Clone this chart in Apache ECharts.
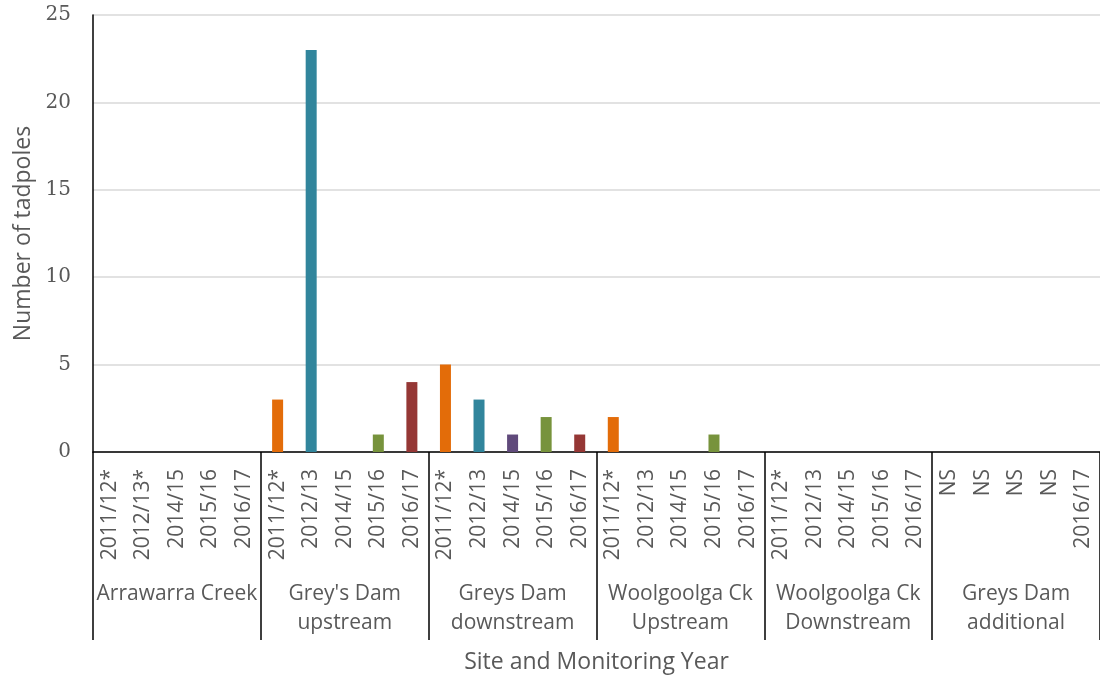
<!DOCTYPE html>
<html>
<head>
<meta charset="utf-8">
<script src="https://cdn.jsdelivr.net/npm/echarts@6/dist/echarts.min.js"></script>
<style>html,body{margin:0;padding:0;background:#fff;}#c{width:1100px;height:679px;}</style>
</head>
<body>
<div id="c"></div>
<script>
// Sites (group labels) and their year labels
const sites = ["Arrawarra Creek", "Grey's Dam\nupstream", "Greys Dam\ndownstream", "Woolgoolga Ck\nUpstream", "Woolgoolga Ck\nDownstream", "Greys Dam\nadditional"];
const yearLabels = [
  ["2011/12*", "2012/13*", "2014/15", "2015/16", "2016/17"],
  ["2011/12*", "2012/13", "2014/15", "2015/16", "2016/17"],
  ["2011/12*", "2012/13", "2014/15", "2015/16", "2016/17"],
  ["2011/12*", "2012/13", "2014/15", "2015/16", "2016/17"],
  ["2011/12*", "2012/13", "2014/15", "2015/16", "2016/17"],
  ["NS", "NS", "NS", "NS", "2016/17"]
];
// Number of tadpoles per site, per monitoring year (2011/12, 2012/13, 2014/15, 2015/16, 2016/17)
const arrawarraCreek = [0, 0, 0, 0, 0];
const greysDamUpstream = [3, 23, 0, 1, 4];
const greysDamDownstream = [5, 3, 1, 2, 1];
const woolgoolgaUpstream = [2, 0, 0, 1, 0];
const woolgoolgaDownstream = [0, 0, 0, 0, 0];
const greysDamAdditional = [null, null, null, null, 0];
const yTicks = [0, 5, 10, 15, 20, 25];

const yearColors = ["#E36C09", "#31859C", "#604A7B", "#77933C", "#953735"];

const siteValues = [arrawarraCreek, greysDamUpstream, greysDamDownstream, woolgoolgaUpstream, woolgoolgaDownstream, greysDamAdditional];
const categories = [];
const barData = [];
siteValues.forEach((vals, s) => {
  vals.forEach((v, i) => {
    categories.push(yearLabels[s][i]);
    barData.push({ value: v, itemStyle: { color: yearColors[i] } });
  });
});

const labelFont = "'Open Sans', 'Liberation Sans', sans-serif";
const chart = echarts.init(document.getElementById('c'), null, { renderer: 'canvas' });
chart.setOption({
  animation: false,
  backgroundColor: '#ffffff',
  grid: { left: 93, right: -3, top: 15, bottom: 225, containLabel: false },
  xAxis: [
    {
      type: 'category',
      data: categories,
      position: 'bottom',
      axisLine: { show: true, lineStyle: { color: '#000000', width: 1.5 } },
      axisTick: { show: false },
      axisLabel: {
        interval: 0, rotate: 90, margin: 17,
        fontFamily: labelFont, fontSize: 21, color: '#595959'
      }
    },
    {
      type: 'category',
      data: sites,
      position: 'bottom',
      axisLine: { show: false },
      axisTick: { show: true, interval: 0, length: 188, inside: false, lineStyle: { color: '#000000', width: 1.5 } },
      axisLabel: {
        interval: 0, margin: 128, lineHeight: 29,
        fontFamily: labelFont, fontSize: 21, color: '#595959'
      },
      name: 'Site and Monitoring Year',
      nameLocation: 'middle',
      nameGap: 199,
      nameTextStyle: { fontFamily: labelFont, fontSize: 23, color: '#595959' }
    }
  ],
  yAxis: {
    type: 'value',
    min: yTicks[0], max: yTicks[yTicks.length - 1], interval: 5,
    axisLine: { show: true, lineStyle: { color: '#000000', width: 1.5 } },
    axisTick: { show: false },
    splitLine: { lineStyle: { color: '#d9d9d9', width: 1.5 } },
    axisLabel: { margin: 22, fontFamily: "'DejaVu Serif', serif", fontSize: 20, color: '#595959' },
    name: 'Number of tadpoles',
    nameLocation: 'middle',
    nameGap: 58,
    nameRotate: 90,
    nameTextStyle: { fontFamily: labelFont, fontSize: 23, color: '#595959' }
  },
  series: [{
    type: 'bar',
    xAxisIndex: 0,
    data: barData,
    barWidth: 11
  }]
});
</script>
</body>
</html>
